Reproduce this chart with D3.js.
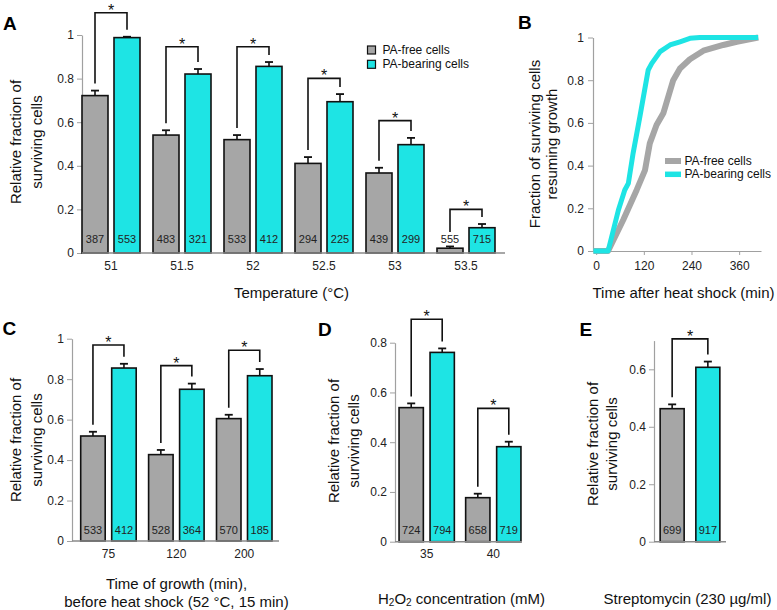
<!DOCTYPE html>
<html><head><meta charset="utf-8">
<script src="https://cdn.jsdelivr.net/npm/d3@7"></script>
<style>body{margin:0;background:#fff}svg{display:block;font-family:"Liberation Sans",Arial,sans-serif}</style>
</head><body><svg id="c" width="777" height="610"></svg>
<script>
// ---------- data ----------
const seriesNames = ["PA-free cells", "PA-bearing cells"];

// Panel A
const tempA = ["51", "51.5", "52", "52.5", "53", "53.5"];
const freeA = [0.722, 0.541, 0.520, 0.411, 0.367, 0.022];
const freeErrA = [0.023, 0.022, 0.021, 0.029, 0.024, 0.008];
const bearA = [0.988, 0.821, 0.856, 0.694, 0.497, 0.116];
const bearErrA = [0.004, 0.023, 0.020, 0.035, 0.031, 0.017];
const nFreeA = [387, 483, 533, 294, 439, 555];
const nBearA = [553, 321, 412, 225, 299, 715];
const sigTopA = [1.102, 0.946, 0.946, 0.801, 0.607, 0.200];
const ticksA = [0, 0.2, 0.4, 0.6, 0.8, 1];

// Panel B
const timeFree = [-7, 30, 68, 102, 123, 135, 152, 169, 194, 211, 236, 270, 320, 354, 408];
const fracFree = [0, 0, 0.145, 0.286, 0.379, 0.504, 0.590, 0.645, 0.800, 0.855, 0.898, 0.938, 0.965, 0.980, 1.0];
const timeBear = [-7, 30, 56, 72, 81, 93, 110, 131, 140, 161, 186, 211, 236, 261, 408];
const fracBear = [0, 0, 0.192, 0.286, 0.317, 0.458, 0.629, 0.848, 0.879, 0.934, 0.965, 0.980, 0.996, 1.0, 1.0];
const ticksBx = [0, 120, 240, 360];
const ticksBy = [0, 0.2, 0.4, 0.6, 0.8, 1];

// Panel C
const growthC = ["75", "120", "200"];
const freeC = [0.519, 0.427, 0.605];
const freeErrC = [0.021, 0.023, 0.019];
const bearC = [0.855, 0.750, 0.817];
const bearErrC = [0.021, 0.028, 0.033];
const nFreeC = [533, 528, 570];
const nBearC = [412, 364, 185];
const sigTopC = [0.969, 0.867, 0.943];
const ticksC = [0, 0.2, 0.4, 0.6, 0.8, 1];

// Panel D
const h2o2D = ["35", "40"];
const freeD = [0.539, 0.177];
const freeErrD = [0.017, 0.016];
const bearD = [0.761, 0.382];
const bearErrD = [0.016, 0.020];
const nFreeD = [724, 658];
const nBearD = [794, 719];
const sigTopD = [0.894, 0.536];
const ticksD = [0, 0.2, 0.4, 0.6, 0.8];

// Panel E
const streptoE = [""];
const freeE = [0.463];
const freeErrE = [0.015];
const bearE = [0.607];
const bearErrE = [0.020];
const nFreeE = [699];
const nBearE = [917];
const sigTopE = [0.706];
const ticksE = [0, 0.2, 0.4, 0.6];

// ---------- drawing ----------
const svg = d3.select("#c");
const FREE = "#a6a6a6", BEAR = "#1ee4e4";
const fmt = d => String(+(+d).toFixed(2));

function barPanel(o) {
  const g = svg.append("g");
  const y = d3.scaleLinear().domain([0, o.yMax]).range([o.y0, o.y1]);
  const x = d3.scaleBand().domain(o.cats).range([o.bandStart, o.bandStart + o.step * o.cats.length]);
  const half = (2 * o.bw + o.gap) / 2;
  const inner = d3.scaleBand().domain([0, 1])
    .range([o.step / 2 - half, o.step / 2 + half])
    .paddingInner(o.gap / (o.bw + o.gap)).paddingOuter(0);

  const ya = g.append("g").attr("transform", `translate(${o.axisX},0)`)
    .call(d3.axisLeft(y).tickValues(o.ticks).tickSize(5).tickSizeOuter(0).tickPadding(3).tickFormat(fmt));
  ya.select(".domain").attr("stroke", "#a0a0a0").attr("stroke-width", 1.2);
  ya.selectAll(".tick line").attr("stroke", "#a0a0a0");
  ya.selectAll(".tick text").attr("font-size", 12).attr("fill", "#222").attr("font-family", "Liberation Sans, Arial, sans-serif");

  const xa = g.append("g").attr("transform", `translate(0,${o.y0})`)
    .call(d3.axisBottom(x).tickSize(0).tickPadding(8));
  xa.select(".domain").remove();
  xa.selectAll(".tick text").attr("font-size", 12).attr("fill", "#222").attr("font-family", "Liberation Sans, Arial, sans-serif");

  const rows = o.cats.map((c, i) => ({
    c, i,
    vals: [o.free[i], o.bear[i]],
    errs: [o.freeErr[i], o.bearErr[i]],
    ns: [o.nFree[i], o.nBear[i]],
    top: o.sigTop[i]
  }));

  const grp = g.selectAll("g.cat").data(rows).join("g").attr("class", "cat")
    .attr("transform", d => `translate(${x(d.c)},0)`);

  grp.selectAll("rect").data(d => d.vals.map((v, k) => ({ v, k }))).join("rect")
    .attr("x", d => inner(d.k)).attr("width", inner.bandwidth())
    .attr("y", d => y(d.v)).attr("height", d => y(0) - y(d.v))
    .attr("fill", d => d.k === 0 ? FREE : BEAR)
    .attr("stroke", "#111").attr("stroke-width", 1.6);

  const eb = grp.selectAll("g.err").data(d => d.vals.map((v, k) => ({ v, e: d.errs[k], k }))).join("g").attr("class", "err");
  eb.append("line")
    .attr("x1", d => inner(d.k) + inner.bandwidth() / 2).attr("x2", d => inner(d.k) + inner.bandwidth() / 2)
    .attr("y1", d => y(d.v)).attr("y2", d => y(d.v + d.e)).attr("stroke", "#111").attr("stroke-width", 1.6);
  eb.append("line")
    .attr("x1", d => inner(d.k) + inner.bandwidth() / 2 - 4).attr("x2", d => inner(d.k) + inner.bandwidth() / 2 + 4)
    .attr("y1", d => y(d.v + d.e)).attr("y2", d => y(d.v + d.e)).attr("stroke", "#111").attr("stroke-width", 1.8);

  grp.selectAll("text.n").data(d => d.ns.map((n, k) => ({ n, k }))).join("text").attr("class", "n")
    .attr("x", d => inner(d.k) + inner.bandwidth() / 2).attr("y", o.y0 - o.nOff)
    .attr("text-anchor", "middle").attr("dominant-baseline", "central")
    .attr("font-size", 11).attr("fill", "#222").text(d => d.n);

  const cx0 = inner(0) + inner.bandwidth() / 2, cx1 = inner(1) + inner.bandwidth() / 2;
  const foot = (v, e) => Math.min(y(v + e) - 7, o.y0 - o.nOff - 7);
  grp.append("path")
    .attr("d", d => `M${cx0},${foot(d.vals[0], d.errs[0])}V${y(d.top)}H${cx1}V${foot(d.vals[1], d.errs[1])}`)
    .attr("fill", "none").attr("stroke", "#111").attr("stroke-width", 1.6);
  grp.append("text").attr("x", (cx0 + cx1) / 2).attr("y", d => y(d.top) + 3)
    .attr("text-anchor", "middle").attr("font-size", 16).attr("fill", "#111").text("*");

  g.append("line").attr("x1", o.axisX).attr("x2", o.axisEnd).attr("y1", o.y0).attr("y2", o.y0)
    .attr("stroke", "#8a8a8a").attr("stroke-width", 1.6);

  o.yTitle.forEach((t, k) => {
    g.append("text").attr("transform", `translate(${o.yTitleX[k]},${o.yTitleY}) rotate(-90)`)
      .attr("text-anchor", "middle").attr("dominant-baseline", "central")
      .attr("font-size", 15).attr("fill", "#111").text(t);
  });
  return { g, x, y };
}

// Panel A
barPanel({
  cats: tempA, free: freeA, freeErr: freeErrA, bear: bearA, bearErr: bearErrA,
  nFree: nFreeA, nBear: nBearA, sigTop: sigTopA, ticks: ticksA, yMax: 1,
  y0: 253, y1: 35, axisX: 82, axisEnd: 505, bandStart: 75.5, step: 71, bw: 26, gap: 6, nOff: 14,
  yTitle: ["Relative fraction of", "surviving cells"], yTitleX: [15, 36.5], yTitleY: 142
});
svg.append("text").attr("x", 291.5).attr("y", 292).attr("text-anchor", "middle").attr("dominant-baseline", "central")
  .attr("font-size", 15).attr("fill", "#111").text("Temperature (°C)");

seriesNames.forEach((s, k) => {
  svg.append("rect").attr("x", 367.5).attr("y", 46 + k * 14.3).attr("width", 8).attr("height", 8)
    .attr("fill", k === 0 ? FREE : BEAR).attr("stroke", "#111").attr("stroke-width", 1.2);
  svg.append("text").attr("x", 382.5).attr("y", 50 + k * 14.3).attr("dominant-baseline", "central")
    .attr("font-size", 12).attr("fill", "#111").text(s);
});

// Panel C
barPanel({
  cats: growthC, free: freeC, freeErr: freeErrC, bear: bearC, bearErr: bearErrC,
  nFree: nFreeC, nBear: nBearC, sigTop: sigTopC, ticks: ticksC, yMax: 1,
  y0: 541, y1: 338.7, axisX: 72, axisEnd: 279, bandStart: 74.5, step: 67.9, bw: 24.5, gap: 6.5, nOff: 11.5,
  yTitle: ["Relative fraction of", "surviving cells"], yTitleX: [15, 36.5], yTitleY: 440
});
svg.append("text").attr("x", 176.5).attr("y", 583).attr("text-anchor", "middle").attr("dominant-baseline", "central")
  .attr("font-size", 15).attr("fill", "#111").text("Time of growth (min),");
svg.append("text").attr("x", 176.5).attr("y", 601).attr("text-anchor", "middle").attr("dominant-baseline", "central")
  .attr("font-size", 15).attr("fill", "#111").text("before heat shock (52 °C, 15 min)");

// Panel D
barPanel({
  cats: h2o2D, free: freeD, freeErr: freeErrD, bear: bearD, bearErr: bearErrD,
  nFree: nFreeD, nBear: nBearD, sigTop: sigTopD, ticks: ticksD, yMax: 0.8,
  y0: 541.7, y1: 342.7, axisX: 395, axisEnd: 522, bandStart: 393.4, step: 66.6, bw: 24.3, gap: 6.7, nOff: 11.5,
  yTitle: ["Relative fraction of", "surviving cells"], yTitleX: [333.5, 353.5], yTitleY: 441
});
{
  const t = svg.append("text").attr("x", 461.5).attr("y", 598).attr("text-anchor", "middle")
    .attr("dominant-baseline", "central").attr("font-size", 15).attr("fill", "#111");
  t.append("tspan").text("H");
  t.append("tspan").attr("font-size", 10).attr("dy", 4).text("2");
  t.append("tspan").attr("dy", -4).text("O");
  t.append("tspan").attr("font-size", 10).attr("dy", 4).text("2");
  t.append("tspan").attr("dy", -4).text(" concentration (mM)");
}

// Panel E
barPanel({
  cats: streptoE, free: freeE, freeErr: freeErrE, bear: bearE, bearErr: bearErrE,
  nFree: nFreeE, nBear: nBearE, sigTop: sigTopE, ticks: ticksE, yMax: 0.7,
  y0: 541.7, y1: 541.7 - 0.7 * 287.3, axisX: 654, axisEnd: 726, bandStart: 654, step: 72, bw: 24, gap: 11.7, nOff: 11.5,
  yTitle: ["Relative fraction of", "surviving cells"], yTitleX: [592.7, 611], yTitleY: 444
});
svg.append("text").attr("x", 687.5).attr("y", 598).attr("text-anchor", "middle").attr("dominant-baseline", "central")
  .attr("font-size", 15).attr("fill", "#111").text("Streptomycin (230 µg/ml)");

// Panel B
{
  const g = svg.append("g");
  const x = d3.scaleLinear().domain([-8, 415]).range([593, 761]);
  const y = d3.scaleLinear().domain([0, 1]).range([251, 37.5]);
  const ya = g.append("g").attr("transform", "translate(593,0)")
    .call(d3.axisLeft(y).tickValues(ticksBy).tickSize(5).tickSizeOuter(0).tickPadding(4).tickFormat(fmt));
  const xa = g.append("g").attr("transform", "translate(0,251)")
    .call(d3.axisBottom(x).tickValues(ticksBx).tickSize(4).tickSizeOuter(0).tickPadding(6).tickFormat(d3.format("d")));
  [ya, xa].forEach(a => {
    a.select(".domain").attr("stroke", "#a0a0a0").attr("stroke-width", 1.2);
    a.selectAll(".tick line").attr("stroke", "#a0a0a0");
    a.selectAll(".tick text").attr("font-size", 12).attr("fill", "#222").attr("font-family", "Liberation Sans, Arial, sans-serif");
  });
  const line = d3.line().x(d => x(d[0])).y(d => y(d[1]));
  g.append("path").datum(timeFree.map((t, i) => [t, fracFree[i]])).attr("d", line)
    .attr("fill", "none").attr("stroke", FREE).attr("stroke-width", 6).attr("stroke-linejoin", "round");
  g.append("path").datum(timeBear.map((t, i) => [t, fracBear[i]])).attr("d", line)
    .attr("fill", "none").attr("stroke", BEAR).attr("stroke-width", 5).attr("stroke-linejoin", "round");
  seriesNames.forEach((s, k) => {
    g.append("line").attr("x1", 665).attr("x2", 681).attr("y1", 161 + k * 13.3).attr("y2", 161 + k * 13.3)
      .attr("stroke", k === 0 ? FREE : BEAR).attr("stroke-width", k === 0 ? 6 : 5.5);
    g.append("text").attr("x", 684.5).attr("y", 161 + k * 13.3).attr("dominant-baseline", "central")
      .attr("font-size", 12).attr("fill", "#111").text(s);
  });
  [["Fraction of surviving cells", 534], ["resuming growth", 551]].forEach(([t, xx]) => {
    g.append("text").attr("transform", `translate(${xx},144) rotate(-90)`)
      .attr("text-anchor", "middle").attr("dominant-baseline", "central")
      .attr("font-size", 15).attr("fill", "#111").text(t);
  });
  g.append("text").attr("x", 683.5).attr("y", 292).attr("text-anchor", "middle").attr("dominant-baseline", "central")
    .attr("font-size", 15).attr("fill", "#111").text("Time after heat shock (min)");
}

[["A", 3, 29.5], ["B", 518, 28.5], ["C", 2.5, 335], ["D", 318, 336], ["E", 579.5, 336]].forEach(([l, xx, yy]) => {
  svg.append("text").attr("x", xx).attr("y", yy).attr("font-size", 19).attr("font-weight", "bold")
    .attr("fill", "#000").text(l);
});
</script>
</body></html>
